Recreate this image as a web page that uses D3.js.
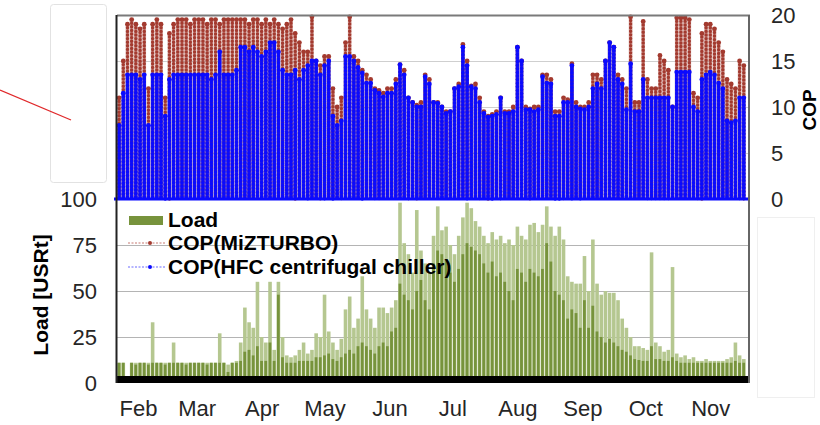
<!DOCTYPE html>
<html>
<head>
<meta charset="utf-8">
<script src="https://cdn.jsdelivr.net/npm/d3@7"></script>
<style>
	body { margin: 0; background: #fff; }
	svg { display: block; font-family: "Liberation Sans", Arial, sans-serif; }
</style>
</head>
<body>
<svg width="820" height="425"></svg>
<script>
// two-day bins starting Feb 1
const startDay = new Date(2013, 1, 1);
const endDay = new Date(2013, 10, 29);
const binDays = 2;

const monthLabels = ["Feb", "Mar", "Apr", "May", "Jun", "Jul", "Aug", "Sep", "Oct", "Nov"];
const loadTicks = [0, 25, 50, 75, 100];
const copTicks = [0, 5, 10, 15, 20];

// peak COP of each bin
const copMiz = [
	11, 15, 19, 19.5, 19, 18.5, 19, 12, 19, 19.5,
	19, 11, 18, 19, 19.5, 19.5, 19.5, 19, 19.5, 19.5,
	19.5, 19, 19.5, 19.5, 19, 19.5, 19.5, 19.5, 19.5, 19.5,
	19.5, 19, 19.5, 19.5, 19, 19.5, 19, 19.5, 19, 18.5,
	19, 19.5, 18, 17, 16, 16, 19.8, 15, 14.5, 15.5,
	15.5, 12, 10, 11, 17, 19.8, 15.5, 15, 14, 13.5,
	13, 12, 11.8, 11.5, 12, 12, 13, 14.6, 14, 11,
	10.5, 10.2, 10.5, 13.5, 13, 10.5, 10.5, 10, 9.5, 9.5,
	12, 12.5, 16.8, 15, 12.3, 12.5, 11, 9.5, 9, 9.2,
	9.5, 11, 9.5, 9.5, 10, 16.5, 15, 10, 9.8, 10,
	10, 13.5, 13.5, 13, 9.5, 9.5, 11, 10.8, 14.7, 10.5,
	10, 10, 10.5, 13.5, 13.5, 13, 15, 17, 16.5, 13.5,
	13, 12, 19.8, 10.5, 10.5, 19.3, 13, 12, 12, 15.6,
	15, 14, 10, 19.7, 19.7, 19.7, 19.5, 11.5, 11, 18,
	19, 19, 18.5, 17, 16, 13, 12.5, 12, 15, 14.5
];

const copHfc = [
	8, 11.5, 13.5, 13.5, 13.5, 13, 13.5, 8, 13.5, 13.5,
	13.5, 9, 13, 13.5, 13.5, 13.5, 13.5, 13.5, 13.5, 13.5,
	13.5, 13.5, 13, 13.5, 16, 13.5, 13.5, 13.5, 14, 16.5,
	16.5, 16, 16.5, 16, 15.5, 16, 17, 17, 16, 14,
	13.5, 13.5, 14, 13, 14, 14.5, 15, 15, 13.5, 14.5,
	15, 9, 8, 8.5, 15.5, 15.5, 15, 14.3, 13.7, 12.6,
	12.6, 11.8, 11.5, 11.1, 11.5, 11.5, 12.5, 14.6, 13.5, 11,
	10.5, 10, 10, 13.3, 12.5, 10.5, 10.4, 10, 9.3, 9.5,
	12, 12.2, 16.5, 14.5, 12.2, 12, 10.5, 9.3, 8.9, 9,
	9.2, 11, 9.3, 9.3, 9.5, 16.5, 15, 9.7, 9.7, 9.5,
	9.7, 13.3, 12.6, 12.5, 9, 9, 10.5, 10.5, 14.5, 10,
	9.8, 9.7, 10, 12, 12.5, 12, 15, 17, 16.5, 13,
	12.5, 9.7, 14.7, 9.5, 9.5, 13, 11, 11, 11, 11,
	11, 11, 10, 13.8, 13.8, 13.8, 13.8, 10, 9.5, 13,
	13.5, 13.8, 13.5, 12.6, 12, 8.5, 8.3, 8.5, 11, 11
];

// load [USRt]: peak and typical level of each bin
const loadPeak = [
	11, 11, 0, 11, 11, 11, 11, 11, 33, 11,
	11, 11, 11, 22, 11, 11, 11, 11, 11, 11,
	11, 11, 11, 11, 27, 11, 10, 11, 12, 22,
	41, 33, 30, 55, 25, 22, 55, 18, 55, 25,
	15, 14, 15, 18, 22, 16, 18, 27, 25, 48,
	28, 22, 18, 24, 40, 47, 30, 35, 58, 40,
	35, 30, 41, 41, 38, 41, 45, 98, 76, 70,
	60, 94, 72, 65, 60, 80, 96, 83, 85, 75,
	70, 80, 90, 98, 95, 88, 85, 80, 76, 82,
	78, 80, 76, 78, 75, 85, 80, 78, 86, 87,
	82, 86, 96, 85, 80, 85, 78, 58, 55, 54,
	54, 69, 50, 78, 54, 48, 50, 49, 49, 45,
	35, 30, 25, 20, 20, 19, 18, 71, 22, 20,
	17, 18, 63, 16, 14, 15, 13, 14, 12, 12,
	13, 12, 12, 12, 12, 13, 14, 22, 15, 13
];

const loadBase = [
	11, 11, 0, 11, 10, 11, 11, 10, 11, 11,
	11, 10, 11, 11, 11, 11, 10, 11, 11, 11,
	11, 10, 11, 11, 11, 11, 6, 11, 11, 12,
	17, 18, 15, 20, 12, 12, 22, 12, 48, 14,
	11, 11, 11, 12, 12, 12, 12, 14, 14, 15,
	16, 13, 12, 14, 16, 18, 16, 20, 22, 20,
	18, 16, 20, 22, 20, 28, 30, 54, 48, 45,
	40, 50, 56, 45, 40, 65, 72, 70, 67, 60,
	55, 62, 70, 76, 74, 72, 70, 65, 60, 66,
	58, 60, 55, 50, 45, 62, 60, 55, 62, 60,
	58, 62, 76, 66, 50, 48, 45, 35, 40, 38,
	30, 45, 30, 42, 28, 25, 22, 24, 22, 20,
	18, 17, 15, 13, 12.5, 12, 12, 20, 13, 13,
	12, 12, 14, 12, 11, 11, 11, 11, 11, 11,
	11, 11, 11, 11, 11, 11, 11, 12, 11, 11
];

const green = "#77933c", lightGreen = "#b5c790", red = "#a33a2f", blue = "#0a0aff";

const svg = d3.select("svg");
const plotLeft = 117, plotRight = 749, plotTop = 15, plotMid = 199, plotBottom = 383;

const x = d3.scaleTime().domain([startDay, endDay]).range([plotLeft, plotRight - 1]);
const yLoad = d3.scaleLinear().domain([0, 100]).range([plotBottom, plotMid]);
const yCop = d3.scaleLinear().domain([0, 20]).range([plotMid, plotTop]);

const bins = copMiz.map((d, i) => ({
	i: i,
	date: d3.timeDay.offset(startDay, i * binDays),
	miz: d,
	hfc: copHfc[i],
	peak: loadPeak[i],
	base: loadBase[i]
}));
const bx = (d) => x(d.date);
const bw = x(d3.timeDay.offset(startDay, binDays)) - x(startDay);

// stray boxes around the chart
svg.append("rect").attr("x", 50.5).attr("y", 4.5).attr("width", 56).attr("height", 178)
	.attr("rx", 3).attr("fill", "none").attr("stroke", "#e2e2e2");
svg.append("rect").attr("x", 757.5).attr("y", 217.5).attr("width", 57).attr("height", 180)
	.attr("fill", "none").attr("stroke", "#efefef");
svg.append("line").attr("x1", 0).attr("y1", 90).attr("x2", 71).attr("y2", 120)
	.attr("stroke", "#e0282a").attr("stroke-width", 1.3);

// gridlines
svg.append("g").selectAll("line").data([25, 50, 75]).enter().append("line")
	.attr("x1", plotLeft).attr("x2", plotRight)
	.attr("y1", (d) => Math.round(yLoad(d)) + 0.5).attr("y2", (d) => Math.round(yLoad(d)) + 0.5)
	.attr("stroke", "#b4b4b4");
svg.append("g").selectAll("line").data([5, 10, 15]).enter().append("line")
	.attr("x1", plotLeft).attr("x2", plotRight)
	.attr("y1", (d) => Math.round(yCop(d)) + 0.5).attr("y2", (d) => Math.round(yCop(d)) + 0.5)
	.attr("stroke", "#cfcfcf");

// load bars
svg.append("g").selectAll("rect").data(bins).enter().append("rect")
	.attr("x", (d) => bx(d) + 0.3).attr("width", bw - 0.6)
	.attr("y", (d) => yLoad(d.peak)).attr("height", (d) => yLoad(0) - yLoad(d.peak))
	.attr("fill", lightGreen);
svg.append("g").selectAll("rect").data(bins).enter().append("rect")
	.attr("x", (d) => bx(d) + 0.6).attr("width", bw - 1.4)
	.attr("y", (d) => yLoad(d.base)).attr("height", (d) => yLoad(0) - yLoad(d.base))
	.attr("fill", green);

// COP columns: a light fill plus a column of markers
function copSeries(key, color, fillOpacity) {
	const g = svg.append("g");
	g.selectAll("rect").data(bins).enter().append("rect")
		.attr("x", (d) => bx(d) + 0.3).attr("width", bw - 0.6)
		.attr("y", (d) => yCop(d[key])).attr("height", (d) => yCop(0) - yCop(d[key]))
		.attr("fill", color).attr("fill-opacity", fillOpacity);
	g.selectAll("line").data(bins).enter().append("line")
		.attr("x1", (d) => bx(d) + bw / 2).attr("x2", (d) => bx(d) + bw / 2)
		.attr("y1", (d) => yCop(d[key])).attr("y2", yCop(0))
		.attr("stroke", color).attr("stroke-width", 3.4)
		.attr("stroke-linecap", "round").attr("stroke-dasharray", "0,3.6");
	g.selectAll("circle").data(bins).enter().append("circle")
		.attr("cx", (d) => bx(d) + bw / 2).attr("cy", (d) => yCop(d[key]))
		.attr("r", 2.4).attr("fill", color);
}
copSeries("miz", red, 0.55);
copSeries("hfc", blue, 0.85);

// zero COP line
svg.append("line").attr("x1", 114).attr("x2", plotRight + 1)
	.attr("y1", yCop(0)).attr("y2", yCop(0))
	.attr("stroke", blue).attr("stroke-width", 3);

// frame
svg.append("rect").attr("x", plotLeft - 1).attr("y", 376).attr("width", plotRight - plotLeft + 2).attr("height", 7).attr("fill", "#000");
svg.append("line").attr("x1", plotLeft).attr("x2", plotRight + 1).attr("y1", plotTop + 0.5).attr("y2", plotTop + 0.5)
	.attr("stroke", "#7a7a7a").attr("stroke-width", 2);
svg.append("line").attr("x1", plotRight).attr("x2", plotRight).attr("y1", plotTop).attr("y2", plotBottom)
	.attr("stroke", "#666").attr("stroke-width", 2);
svg.append("line").attr("x1", plotLeft - 0.5).attr("x2", plotLeft - 0.5).attr("y1", plotTop).attr("y2", plotBottom)
	.attr("stroke", "#222").attr("stroke-width", 2);

// axes
const tickDates = monthLabels.map((m, i) => new Date(2013, i + 1, 11));
const xAxis = svg.append("g").attr("transform", "translate(0," + plotBottom + ")")
	.call(d3.axisBottom(x).tickValues(tickDates).tickFormat((d, i) => monthLabels[i]).tickSize(0).tickPadding(17));
const leftAxis = svg.append("g").attr("transform", "translate(" + plotLeft + ",0)")
	.call(d3.axisLeft(yLoad).tickValues(loadTicks).tickSize(0).tickPadding(20));
const rightAxis = svg.append("g").attr("transform", "translate(" + plotRight + ",0)")
	.call(d3.axisRight(yCop).tickValues(copTicks).tickSize(0).tickPadding(22));
[xAxis, leftAxis, rightAxis].forEach((a) => {
	a.select(".domain").remove();
	a.selectAll("text").attr("font-size", 22).attr("fill", "#262626")
		.attr("font-family", "Liberation Sans, Arial, sans-serif");
});

svg.append("text").attr("transform", "translate(48,295) rotate(-90)")
	.attr("text-anchor", "middle").attr("font-size", 21).attr("font-weight", "bold")
	.text("Load [USRt]");
svg.append("text").attr("transform", "translate(816,110) rotate(-90)")
	.attr("text-anchor", "middle").attr("font-size", 19).attr("font-weight", "bold")
	.text("COP");

// legend
const legend = svg.append("g").attr("font-size", 21).attr("font-weight", "bold");
legend.append("rect").attr("x", 129).attr("y", 216).attr("width", 34).attr("height", 9).attr("fill", green);
legend.append("text").attr("x", 168).attr("y", 227).text("Load");
[["COP(MiZTURBO)", "#c87a72", red, 243], ["COP(HFC centrifugal chiller)", "#6a6aff", blue, 267]].forEach((item) => {
	legend.append("line").attr("x1", 128).attr("x2", 165).attr("y1", item[3]).attr("y2", item[3])
		.attr("stroke", item[1]).attr("stroke-width", 1.2).attr("stroke-dasharray", "2,1.5");
	legend.append("circle").attr("cx", 150).attr("cy", item[3]).attr("r", 2).attr("fill", item[2]);
	legend.append("text").attr("x", 168).attr("y", item[3] + 7).text(item[0]);
});
</script>
</body>
</html>
